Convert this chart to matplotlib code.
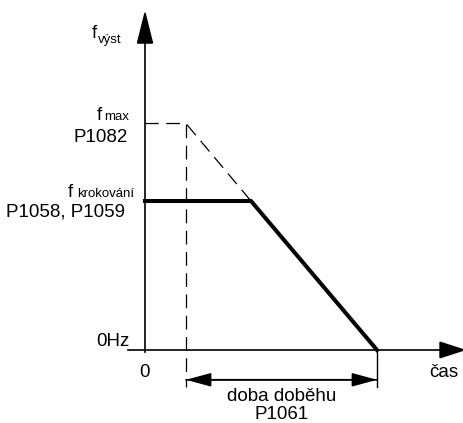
import matplotlib
matplotlib.use("Agg")
import matplotlib.pyplot as plt
from matplotlib.patches import FancyArrowPatch, Polygon

plt.rcParams['font.family'] = ['Liberation Sans', 'DejaVu Sans']

# Data (arbitrary units): time and frequency
t_cmd = 0.41          # time of stop command (dashed marker)
t_jog_end = 1.06      # jog ramp-down start
t_stop = 2.32         # ramp reaches zero
f_max = 1.52
f_jog = 1.0

ramp_t = [0.0, t_jog_end, t_stop]
ramp_f = [f_jog, f_jog, 0.0]
ref_t = [0.0, t_cmd, t_jog_end]
ref_f = [f_max, f_max, f_jog]

fig = plt.figure(figsize=(4.64, 4.23), dpi=100)
ax = fig.add_axes([0, 0, 1, 1])
ax.set_xlim(-1.45, 3.19)
ax.set_ylim(-0.49, 2.349)
ax.axis('off')

# axes lines
ax.plot([0, 0], [-0.015, 2.08], color='black', lw=1.2)
ax.plot([-0.17, 2.98], [0, 0], color='black', lw=1.2)
# arrow heads
ax.add_patch(Polygon([[-0.075, 2.06], [0.075, 2.06], [0, 2.262]], closed=True, color='black'))
ax.add_patch(Polygon([[2.95, 0.052], [2.95, -0.052], [3.19, 0]], closed=True, color='black'))

# dashed reference
dash = (0, (11, 6))
ax.plot(ref_t, ref_f, color='black', lw=0.9, ls=dash)
ax.plot([t_cmd, t_cmd], [f_max, -0.25], color='black', lw=0.9, ls=dash)

# thick jog line
ax.plot(ramp_t, ramp_f, color='black', lw=2.9, solid_joinstyle='miter')

# vertical end line
ax.plot([t_stop, t_stop], [0, -0.25], color='black', lw=1.0)

# double arrow
style = '-|>,head_length=1.1,head_width=0.3'
ax.add_patch(FancyArrowPatch((t_cmd, -0.2), (t_stop, -0.2), arrowstyle=style,
                             mutation_scale=14, color='black', lw=1.2, shrinkA=0, shrinkB=0))
ax.add_patch(FancyArrowPatch((t_stop, -0.2), (t_cmd, -0.2), arrowstyle=style,
                             mutation_scale=14, color='black', lw=1.2, shrinkA=0, shrinkB=0))

fs = 13.5
fss = 9.5
# labels
ax.text(-0.505, 2.094, 'f', fontsize=fs, ha='center', va='baseline')
ax.text(-0.47, 2.06, 'výst', fontsize=fss, ha='left', va='baseline')
ax.text(-0.48, 1.544, 'f', fontsize=fs, ha='left', va='baseline')
ax.text(-0.41, 1.544, 'max', fontsize=fss, ha='left', va='baseline')
ax.text(-0.17, 1.396, 'P1082', fontsize=fs, ha='right', va='baseline')
ax.text(-0.77, 1.027, 'f', fontsize=fs, ha='left', va='baseline')
ax.text(-0.68, 1.027, 'krokování', fontsize=fss, ha='left', va='baseline')
ax.text(-0.20, 0.893, 'P1058, P1059', fontsize=fs, ha='right', va='baseline')
ax.text(-0.15, 0.027, '0Hz', fontsize=fs, ha='right', va='baseline')
ax.text(0.0, -0.18, '0', fontsize=fs, ha='center', va='baseline')
ax.text(2.99, -0.18, 'čas', fontsize=fs, ha='center', va='baseline')
ax.text((t_cmd + t_stop) / 2, -0.342, 'doba doběhu', fontsize=fs, ha='center', va='baseline')
ax.text((t_cmd + t_stop) / 2, -0.463, 'P1061', fontsize=fs, ha='center', va='baseline')

fig.savefig('out.png', dpi=100)
